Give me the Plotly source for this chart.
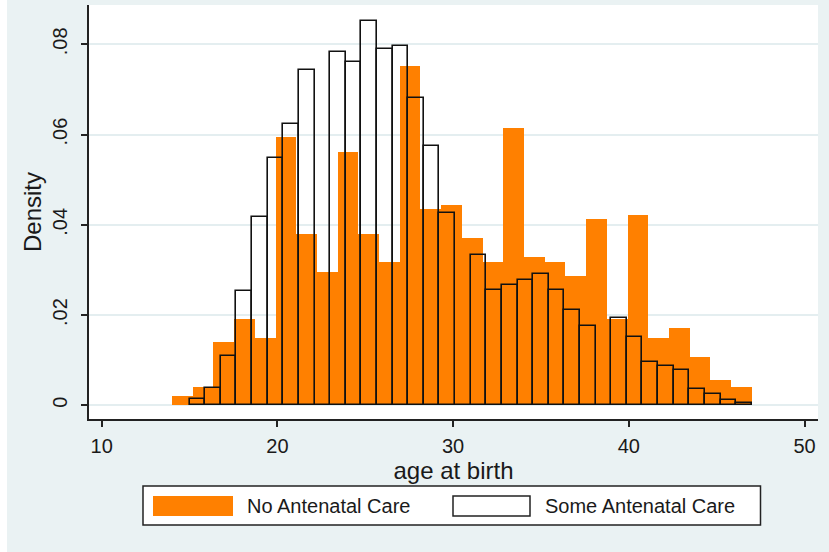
import plotly.graph_objects as go

# Age at birth histograms (density), by antenatal care status
no_anc_start = 14.0
no_anc_width = 33 / 28
no_anc_density = [
    0.0020, 0.0041, 0.0140, 0.0191, 0.0150, 0.0595, 0.0380, 0.0296,
    0.0562, 0.0380, 0.0318, 0.0751, 0.0434, 0.0443, 0.0370, 0.0318,
    0.0615, 0.0329, 0.0318, 0.0286, 0.0412, 0.0191, 0.0422, 0.0150,
    0.0171, 0.0108, 0.0056, 0.0041,
]

some_anc_start = 15.0
some_anc_width = 32 / 36
some_anc_density = [
    0.0015, 0.0038, 0.0109, 0.0253, 0.0418, 0.0547, 0.0624, 0.0743,
    0.0, 0.0782, 0.0761, 0.0852, 0.0789, 0.0796, 0.0680, 0.0575,
    0.0426, 0.0, 0.0334, 0.0256, 0.0267, 0.0278, 0.0292, 0.0256,
    0.0211, 0.0176, 0.0, 0.0193, 0.0151, 0.0097, 0.0088, 0.0078,
    0.0037, 0.0025, 0.0012, 0.0005,
]

x_ticks = [10, 20, 30, 40, 50]
y_ticks = [0, 0.02, 0.04, 0.06, 0.08]
y_tick_labels = ["0", ".02", ".04", ".06", ".08"]

series_names = ["No Antenatal Care", "Some Antenatal Care"]

ORANGE = "#FF8000"
INK = "#1a1a1a"
LINE = "#222222"
BG = "#EAF2F3"

W, H = 829, 552
L, R, T, B = 89, 11, 5, 133
PW, PH = W - L - R, H - T - B


def centers(start, width, n):
    return [start + width * (i + 0.5) for i in range(n)]


fig = go.Figure()
fig.add_bar(
    x=centers(no_anc_start, no_anc_width, len(no_anc_density)),
    y=no_anc_density,
    width=no_anc_width,
    name=series_names[0],
    marker=dict(color=ORANGE, line=dict(width=0)),
)
fig.add_bar(
    x=centers(some_anc_start, some_anc_width, len(some_anc_density)),
    y=some_anc_density,
    width=some_anc_width,
    name=series_names[1],
    marker=dict(color="rgba(0,0,0,0)", line=dict(color="#111111", width=1.6)),
)


# pixel helpers for the legend block below the plot
def px(x):
    return (x - L) / PW


def py(y):
    return (H - B - y) / PH


shapes = [
    # thin white border on the left edge of the graph
    dict(type="rect", xref="paper", yref="paper", x0=px(0), x1=px(7),
         y0=py(H), y1=py(0), fillcolor="white", line=dict(width=0), layer="below"),
    # legend frame
    dict(type="rect", xref="paper", yref="paper", x0=px(143), x1=px(760.5),
         y0=py(525), y1=py(486), fillcolor="white", line=dict(color=LINE, width=1.5)),
    dict(type="rect", xref="paper", yref="paper", x0=px(153), x1=px(233),
         y0=py(516), y1=py(496), fillcolor=ORANGE, line=dict(width=0)),
    dict(type="rect", xref="paper", yref="paper", x0=px(453), x1=px(530),
         y0=py(516), y1=py(496), fillcolor="white", line=dict(color=LINE, width=1.5)),
]

annotations = [
    dict(text=series_names[0], xref="paper", yref="paper", x=px(245), y=py(506),
         xanchor="left", yanchor="middle", showarrow=False),
    dict(text=series_names[1], xref="paper", yref="paper", x=px(543), y=py(506),
         xanchor="left", yanchor="middle", showarrow=False),
]

fig.update_layout(
    width=W,
    height=H,
    margin=dict(l=L, r=R, t=T, b=B, pad=0),
    paper_bgcolor=BG,
    plot_bgcolor="white",
    barmode="overlay",
    bargap=0,
    showlegend=False,
    font=dict(family="Liberation Sans, Arial, sans-serif", size=20, color=INK),
    shapes=shapes,
    annotations=annotations,
)

fig.update_xaxes(
    range=[9.277, 50.768],
    tickmode="array",
    tickvals=x_ticks,
    ticks="outside",
    ticklen=6,
    tickwidth=1.5,
    tickcolor=LINE,
    showline=True,
    linecolor=LINE,
    linewidth=1.5,
    showgrid=False,
    zeroline=False,
    ticklabelstandoff=2,
    title=dict(text="age at birth", standoff=0),
)

fig.update_yaxes(
    range=[-0.00304, 0.08872],
    tickmode="array",
    tickvals=y_ticks,
    ticktext=y_tick_labels,
    tickangle=-90,
    ticks="outside",
    ticklen=6,
    tickwidth=1.5,
    tickcolor=LINE,
    showline=True,
    linecolor=LINE,
    linewidth=1.5,
    showgrid=True,
    gridcolor="#E4EEF0",
    gridwidth=1.5,
    zeroline=False,
    ticklabelstandoff=6,
    title=dict(text="Density", standoff=1),
)

fig.write_html("out.html")
